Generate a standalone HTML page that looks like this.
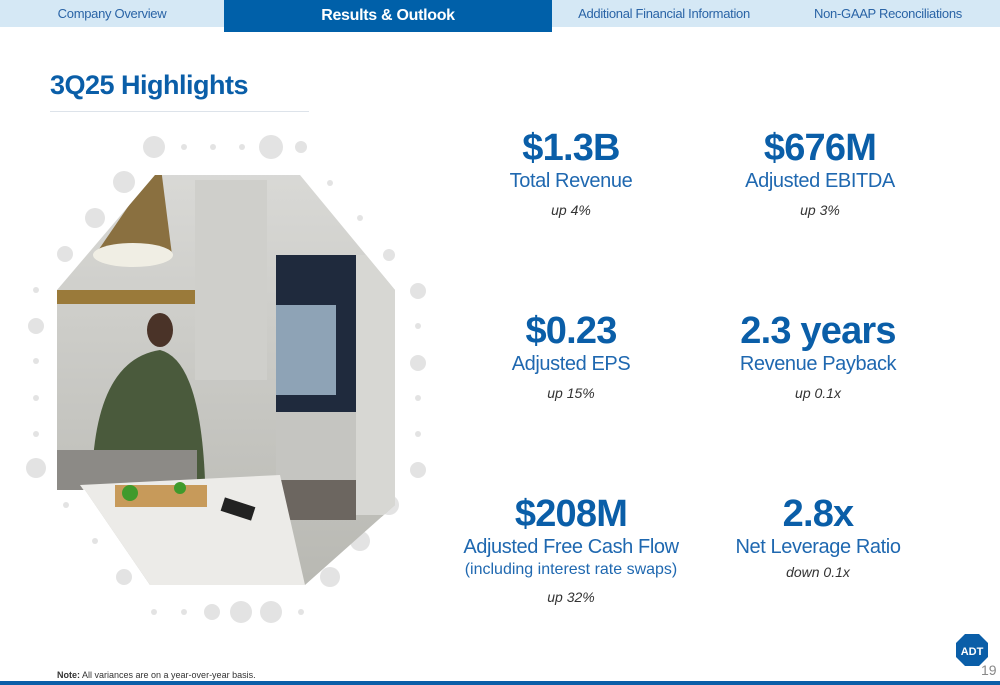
<!DOCTYPE html>
<html><head><meta charset="utf-8"><style>
*{margin:0;padding:0;box-sizing:border-box}
body{width:1000px;height:685px;background:#fff;position:relative;overflow:hidden;font-family:"Liberation Sans",sans-serif;color:#0a5ea8}
.nav{position:absolute;top:0;left:0;width:1000px;height:27px;background:#d5e8f5}
.nav div{position:absolute;top:0;height:27px;line-height:27px;font-size:13px;color:#2a64a6;text-align:center;letter-spacing:-0.3px}
.nav .act{background:#0060a9;color:#fff;font-weight:bold;font-size:16px;height:32px;line-height:32px}
h1{position:absolute;left:50px;top:70px;font-size:27px;font-weight:bold;color:#0a5ea8;letter-spacing:-0.5px}
.rule{position:absolute;left:50px;top:111px;width:259px;height:1px;background:#dde3ea}
.m{position:absolute;width:300px;text-align:center}
.m .v{font-size:38px;font-weight:bold;color:#0a5ea8;letter-spacing:-0.8px;line-height:40px}
.m .l{font-size:20px;color:#1f68b0;line-height:26px;letter-spacing:-0.4px}
.m .s{font-size:14px;font-style:italic;color:#333;margin-top:8px}
.m .l2{font-size:16px;color:#1f68b0;line-height:20px}
</style></head><body>
<div class="nav">
<div style="left:0;width:224px">Company Overview</div>
<div class="act" style="left:224px;width:328px">Results &amp; Outlook</div>
<div style="left:552px;width:224px">Additional Financial Information</div>
<div style="left:776px;width:224px">Non-GAAP Reconciliations</div>
</div>
<h1>3Q25 Highlights</h1>
<div class="rule"></div>
<svg style="position:absolute;left:0;top:120px" width="450" height="520">
<defs><clipPath id="oc"><polygon points="155,55 300,55 395,170 395,385 305,465 150,465 85,370 57,370 57,170"/></clipPath>
<linearGradient id="bg" x1="0" y1="0" x2="0" y2="1"><stop offset="0" stop-color="#d9d9d6"/><stop offset="1" stop-color="#b8b8b2"/></linearGradient></defs>
<g fill="#e3e3e3">
<circle cx="154" cy="27" r="11"/><circle cx="271" cy="27" r="12"/><circle cx="301" cy="27" r="6"/>
<circle cx="124" cy="62" r="11"/><circle cx="95" cy="98" r="10"/><circle cx="65" cy="134" r="8"/>
<circle cx="36" cy="206" r="8"/><circle cx="36" cy="348" r="10"/><circle cx="124" cy="457" r="8"/>
<circle cx="389" cy="135" r="6"/><circle cx="418" cy="171" r="8"/><circle cx="418" cy="243" r="8"/>
<circle cx="418" cy="350" r="8"/><circle cx="389" cy="385" r="10"/><circle cx="360" cy="421" r="10"/>
<circle cx="330" cy="457" r="10"/><circle cx="212" cy="492" r="8"/><circle cx="241" cy="492" r="11"/><circle cx="271" cy="492" r="11"/>
<circle cx="184" cy="27" r="3"/><circle cx="213" cy="27" r="3"/><circle cx="242" cy="27" r="3"/>
<circle cx="330" cy="63" r="3"/><circle cx="360" cy="98" r="3"/><circle cx="36" cy="170" r="3"/>
<circle cx="36" cy="241" r="3"/><circle cx="36" cy="278" r="3"/><circle cx="36" cy="314" r="3"/>
<circle cx="418" cy="206" r="3"/><circle cx="418" cy="278" r="3"/><circle cx="418" cy="314" r="3"/>
<circle cx="66" cy="385" r="3"/><circle cx="95" cy="421" r="3"/><circle cx="154" cy="492" r="3"/><circle cx="184" cy="492" r="3"/><circle cx="301" cy="492" r="3"/>
</g>
<g clip-path="url(#oc)">
<rect x="50" y="50" width="360" height="420" fill="url(#bg)"/>
<rect x="195" y="60" width="72" height="200" fill="#cfcfcb"/>
<rect x="276" y="135" width="80" height="160" fill="#1f2a3d"/>
<rect x="276" y="185" width="60" height="90" fill="#8ea3b6"/>
<rect x="356" y="135" width="40" height="260" fill="#d7d7d3"/>
<rect x="276" y="292" width="80" height="70" fill="#c5c5c1"/>
<rect x="276" y="360" width="80" height="40" fill="#6c6660"/>
<rect x="57" y="170" width="138" height="14" fill="#9a7a3a"/>
<polygon points="95,135 172,135 160,40" fill="#8a7040"/>
<ellipse cx="133" cy="135" rx="40" ry="12" fill="#f0eee4"/>
<ellipse cx="160" cy="210" rx="13" ry="17" fill="#4a3328"/>
<path d="M92,360 Q95,240 160,230 Q200,240 205,360 Z" fill="#4a5a3c"/>
<rect x="57" y="330" width="140" height="40" fill="#8c8a86"/>
<polygon points="80,365 280,355 305,465 150,465" fill="#ecebe8"/>
<rect x="115" y="365" width="92" height="22" fill="#c79a5a"/>
<circle cx="130" cy="373" r="8" fill="#3f9a2c"/><circle cx="180" cy="368" r="6" fill="#3f9a2c"/>
<rect x="222" y="382" width="32" height="14" fill="#222" transform="rotate(18 238 389)"/>
</g>
</svg>
<div class="m" style="left:421px;top:128px"><div class="v">$1.3B</div><div class="l">Total Revenue</div><div class="s">up 4%</div></div>
<div class="m" style="left:670px;top:128px"><div class="v">$676M</div><div class="l">Adjusted EBITDA</div><div class="s">up 3%</div></div>
<div class="m" style="left:421px;top:311px"><div class="v">$0.23</div><div class="l">Adjusted EPS</div><div class="s">up 15%</div></div>
<div class="m" style="left:668px;top:311px"><div class="v">2.3 years</div><div class="l">Revenue Payback</div><div class="s">up 0.1x</div></div>
<div class="m" style="left:421px;top:494px"><div class="v">$208M</div><div class="l">Adjusted Free Cash Flow</div><div class="l2">(including interest rate swaps)</div><div class="s" style="margin-top:9px">up 32%</div></div>
<div class="m" style="left:668px;top:494px"><div class="v">2.8x</div><div class="l">Net Leverage Ratio</div><div class="s" style="margin-top:4px">down 0.1x</div></div>
<div style="position:absolute;left:57px;top:670px;font-size:9px;color:#333"><b>Note:</b> All variances are on a year-over-year basis.</div>
<svg style="position:absolute;left:955px;top:633px" width="34" height="34"><polygon points="10,1 24,1 33,10 33,24 24,33 10,33 1,24 1,10" fill="#0a5ea8"/><text x="17" y="22" font-size="11" font-weight="bold" fill="#fff" text-anchor="middle" font-family="Liberation Sans">ADT</text></svg>
<div style="position:absolute;left:981px;top:662px;font-size:14px;color:#888">19</div>
<div style="position:absolute;left:0;top:681px;width:1000px;height:4px;background:#0a5ea8"></div>
</body></html>
